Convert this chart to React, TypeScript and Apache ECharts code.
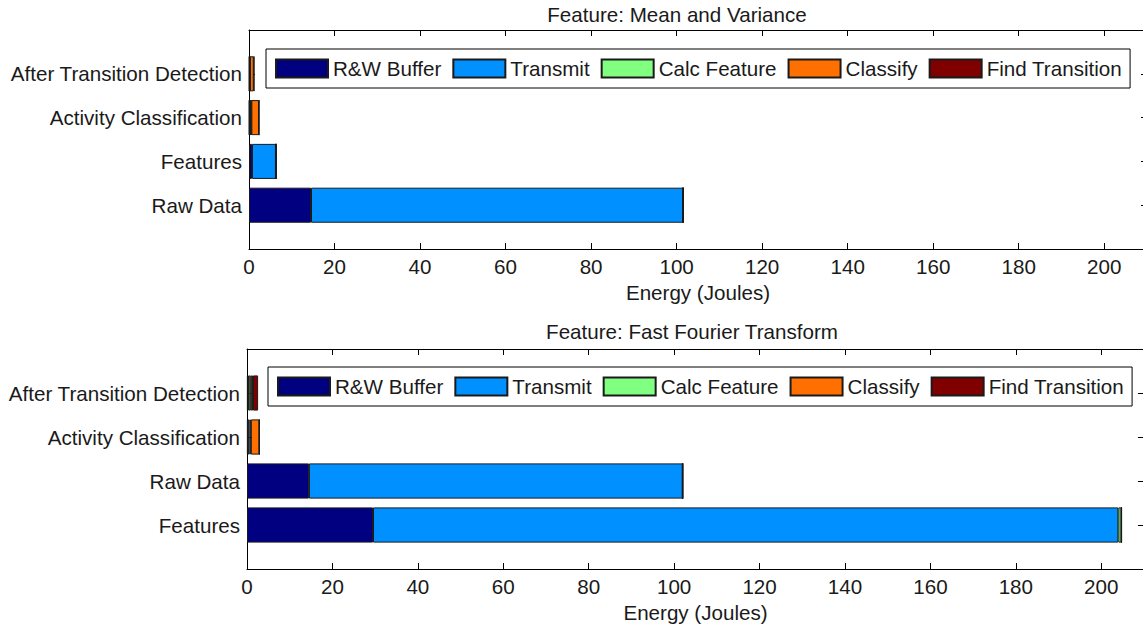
import React, { useEffect, useRef } from "react";
import * as echarts from "echarts";

const seriesNames = ["R&W Buffer", "Transmit", "Calc Feature", "Classify", "Find Transition"];
const seriesColors = ["#000080", "#0090ff", "#80ff80", "#ff7000", "#800000"];

const topTitle = "Feature: Mean and Variance";
const bottomTitle = "Feature: Fast Fourier Transform";
const xAxisName = "Energy (Joules)";

const topCategories = ["Raw Data", "Features", "Activity Classification", "After Transition Detection"];
const bottomCategories = ["Features", "Raw Data", "Activity Classification", "After Transition Detection"];

// values per series, in the category order above
const topRW = [14.5, 0.7, 0.1, 0.1];
const topTransmit = [87.0, 5.6, 0.4, 0.1];
const topCalc = [0, 0.02, 0.05, 0.02];
const topClassify = [0, 0, 1.8, 0.9];
const topFind = [0, 0, 0, 0.1];

const bottomRW = [29.5, 14.5, 0.2, 0.2];
const bottomTransmit = [174.5, 87.5, 0.4, 0.2];
const bottomCalc = [0.7, 0, 0.3, 0.5];
const bottomClassify = [0.05, 0, 2.0, 0.5];
const bottomFind = [0, 0, 0, 1.2];

const xTicks = { min: 0, max: 210, interval: 20 };

const FONT = "'Liberation Sans', Arial, sans-serif";
const FS = 20.6;
const TXT = "#1a1a1a";

export default function App() {
  const ref = useRef<HTMLDivElement>(null);

  useEffect(() => {
    if (!ref.current) return;
    const chart = echarts.init(ref.current, undefined, { renderer: "svg" });

    const panels = [
      {
        title: topTitle, cats: topCategories,
        data: [topRW, topTransmit, topCalc, topClassify, topFind],
        left: 249, top: 30, width: 898, height: 219, titleX: 672, titleTop: -1,
        legendLeft: 266, legendTop: 49,
      },
      {
        title: bottomTitle, cats: bottomCategories,
        data: [bottomRW, bottomTransmit, bottomCalc, bottomClassify, bottomFind],
        left: 247, top: 349, width: 897, height: 220, titleX: 687, titleTop: 316,
        legendLeft: 268, legendTop: 367,
      },
    ];

    const grid: any[] = [];
    const xAxis: any[] = [];
    const yAxis: any[] = [];
    const series: any[] = [];
    const title: any[] = [];
    const legend: any[] = [];

    panels.forEach((p, pi) => {
      const band = p.height / 5;
      const gFrame = grid.length;
      grid.push({ left: p.left, top: p.top, width: p.width, height: p.height, containLabel: false, outerBoundsMode: "none" });
      const gBar = grid.length;
      grid.push({ left: p.left, top: p.top + band / 2, width: p.width, height: band * 4, containLabel: false, outerBoundsMode: "none" });

      const tickStyle = { show: true, inside: true, length: 6, lineStyle: { color: "#000", width: 1 } };
      const lineStyle = { show: true, lineStyle: { color: "#000", width: 1 } };

      xAxis.push({
        gridIndex: gFrame, type: "value", position: "bottom", ...xTicks,
        axisLine: { ...lineStyle, onZero: false }, axisTick: tickStyle, splitLine: { show: false },
        axisLabel: { show: true, fontSize: FS, color: TXT, fontFamily: FONT, margin: 7, showMaxLabel: false },
        name: xAxisName, nameLocation: "middle", nameGap: 33,
        nameTextStyle: { fontSize: FS, color: TXT, fontFamily: FONT },
      });
      const xFrameBottom = xAxis.length - 1;
      xAxis.push({
        gridIndex: gFrame, type: "value", position: "top", ...xTicks,
        axisLine: { ...lineStyle, onZero: false }, axisTick: tickStyle, splitLine: { show: false },
        axisLabel: { show: false },
      });
      xAxis.push({ gridIndex: gBar, type: "value", ...xTicks, show: false });
      const xBar = xAxis.length - 1;

      const cats = p.cats;
      yAxis.push({
        gridIndex: gFrame, type: "value", position: "left", min: 0, max: 5, interval: 1,
        axisLine: { ...lineStyle, onZero: false }, axisTick: tickStyle, splitLine: { show: false },
        axisLabel: {
          show: true, fontSize: FS, color: TXT, fontFamily: FONT, margin: 7,
          formatter: (v: number) => (v >= 1 && v <= 4 ? cats[v - 1] : ""),
        },
      });
      const yFrameLeft = yAxis.length - 1;
      yAxis.push({
        gridIndex: gFrame, type: "value", position: "right", min: 0, max: 5, interval: 1,
        axisLine: { ...lineStyle, onZero: false }, axisTick: tickStyle, splitLine: { show: false },
        axisLabel: { show: false },
      });
      yAxis.push({ gridIndex: gBar, type: "category", data: cats, show: false });
      const yBar = yAxis.length - 1;

      series.push({
        type: "scatter", xAxisIndex: xFrameBottom, yAxisIndex: yFrameLeft, data: [], silent: true,
      });

      seriesNames.forEach((name, si) => {
        series.push({
          type: "bar", name, stack: "s" + pi, xAxisIndex: xBar, yAxisIndex: yBar,
          barWidth: "80%", data: p.data[si],
          itemStyle: { color: seriesColors[si], borderColor: "#1a1a1a", borderWidth: 1 },
          emphasis: { disabled: true },
        });
      });

      title.push({
        text: p.title, left: p.titleX, top: p.titleTop, textAlign: "center",
        textStyle: { fontSize: FS, fontWeight: "normal", color: TXT, fontFamily: FONT },
      });

      legend.push({
        data: seriesNames, left: p.legendLeft, top: p.legendTop, orient: "horizontal",
        icon: "rect", itemWidth: 52, itemHeight: 18, itemGap: 11,
        padding: [9, 8, 9, 9], borderColor: "#000", borderWidth: 1, backgroundColor: "#fff",
        textStyle: { fontSize: FS, color: TXT, fontFamily: FONT, padding: [0, 0, 0, 0] },
        selectedMode: false,
      });
    });

    chart.setOption({
      animation: false,
      backgroundColor: "#fff",
      textStyle: { fontFamily: FONT },
      title, legend, grid, xAxis, yAxis, series,
    });

    return () => chart.dispose();
  }, []);

  return (
    <div
      ref={ref}
      style={{ position: "absolute", left: 0, top: 0, width: 1143, height: 625 }}
    />
  );
}
